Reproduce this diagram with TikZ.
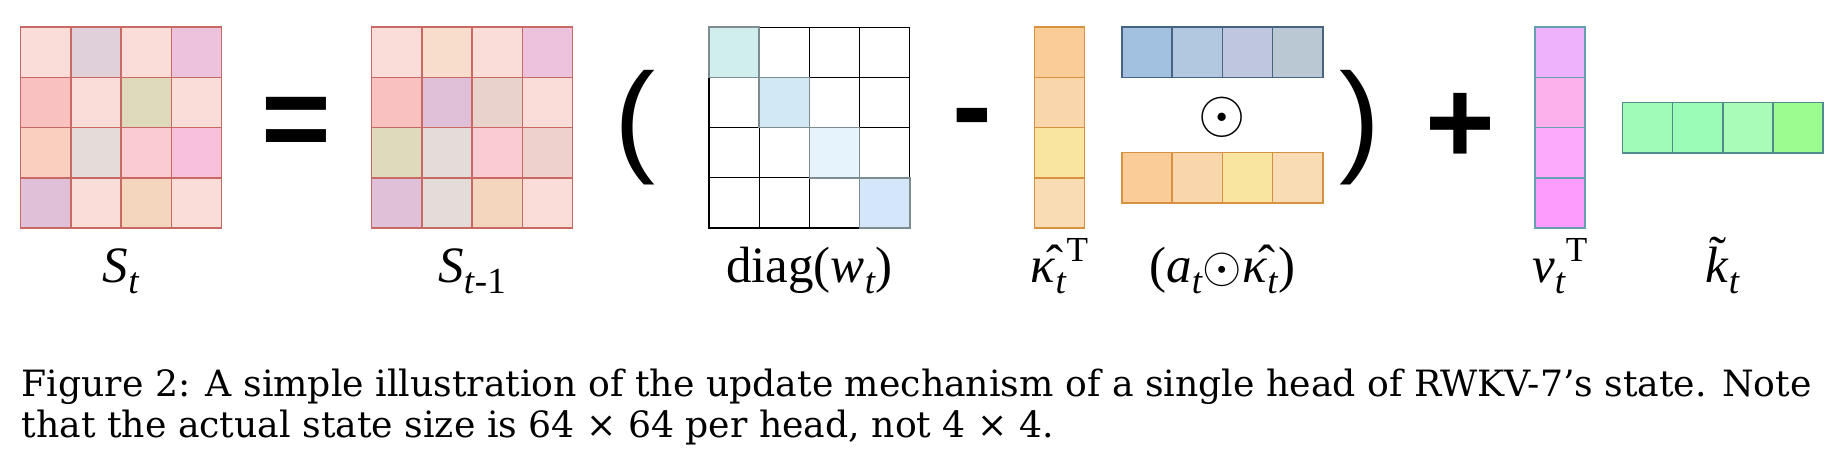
\documentclass[tikz,border=0pt]{standalone}
\usepackage{fontspec}
\newfontfamily\lblfam{Liberation Serif}
\newfontfamily\opfam{Liberation Sans}
\newfontfamily\capfam{DejaVu Serif}

% state cells
\definecolor{pkA}{HTML}{FADCD8}
\definecolor{mvA}{HTML}{E0D0DA}
\definecolor{mvB}{HTML}{EDC2DC}
\definecolor{rdA}{HTML}{F9C2C0}
\definecolor{olA}{HTML}{E0DABC}
\definecolor{pcA}{HTML}{F9D0C0}
\definecolor{gyA}{HTML}{E4DCD8}
\definecolor{pkB}{HTML}{F9CCD4}
\definecolor{pkC}{HTML}{F8C0DA}
\definecolor{mvC}{HTML}{E0C0D8}
\definecolor{tnA}{HTML}{F4D6BE}
\definecolor{pcB}{HTML}{F8DCCC}
\definecolor{gyB}{HTML}{EAD2CC}
\definecolor{pkD}{HTML}{EED0CC}
\definecolor{sline}{RGB}{200,105,100}
% decay
\definecolor{dgA}{HTML}{D0EEEE}
\definecolor{dgB}{HTML}{D2E8F4}
\definecolor{dgC}{HTML}{E6F2FC}
\definecolor{dgD}{HTML}{D4E6FA}
\definecolor{dgline}{RGB}{125,140,145}
% kappa / a
\definecolor{kpA}{HTML}{F9CC98}
\definecolor{kpB}{HTML}{F9D6AC}
\definecolor{kpC}{HTML}{F9E4A0}
\definecolor{kpD}{HTML}{F9DCB4}
\definecolor{kline}{RGB}{215,145,65}
\definecolor{blA}{HTML}{A2C0E0}
\definecolor{blB}{HTML}{B2C8E0}
\definecolor{blC}{HTML}{BEC6E0}
\definecolor{blD}{HTML}{BAC8D4}
\definecolor{bline}{RGB}{70,100,130}
% v / k
\definecolor{vA}{HTML}{EEB2FC}
\definecolor{vB}{HTML}{FCB0EC}
\definecolor{vC}{HTML}{FCAAFC}
\definecolor{vD}{HTML}{FC9CFC}
\definecolor{vline}{RGB}{100,160,175}
\definecolor{gA}{HTML}{9EFCB8}
\definecolor{gB}{HTML}{9AFCB6}
\definecolor{gC}{HTML}{A8FCB8}
\definecolor{gD}{HTML}{9CFC90}
\definecolor{gline}{RGB}{80,140,140}

\newcommand{\lsub}[1]{\raisebox{-3pt}{\fontsize{10.5}{10.5}\selectfont #1}}
\newcommand{\lsup}[1]{\raisebox{6pt}{\fontsize{10}{10}\selectfont #1}}
\newcommand{\khat}{\textit{κ}\llap{\raisebox{0.6pt}{ˆ}\kern-2.2pt}}
\newcommand{\ktil}{\textit{k}\llap{\raisebox{3.2pt}{˜}\kern0.6pt}}

\begin{document}
\begin{tikzpicture}[
x=0.01cm, y=-0.01cm,
cell/.style={line width=0.45pt},
lbl/.style={anchor=base, inner sep=0pt, font=\lblfam\fontsize{14.5}{14.5}\selectfont},
op/.style={inner sep=0pt, font=\opfam\bfseries\fontsize{34}{34}\selectfont},
paren/.style={inner sep=0pt, font=\opfam\fontsize{35}{35}\selectfont},
capline/.style={anchor=base west, inner sep=0pt, font=\capfam\fontsize{10.3}{12}\selectfont}
]
\useasboundingbox (0,0) rectangle (1848,459);

% S_t
\foreach \f [count=\n from 0] in {pkA,mvA,pkA,mvB, rdA,pkA,olA,pkA, pcA,gyA,pkB,pkC, mvC,pkA,tnA,pkA}{
\pgfmathtruncatemacro\cx{mod(\n,4)}
\pgfmathtruncatemacro\ry{div(\n,4)}
\draw[cell, draw=sline, fill=\f] (20.7+\cx*50.2, 27.3+\ry*50.2) rectangle ++(50.2,50.2);
}

% S_{t-1}
\foreach \f [count=\n from 0] in {pkA,pcB,pkA,mvB, rdA,mvC,gyB,pkA, olA,gyA,pkB,pkD, mvC,gyA,tnA,pkA}{
\pgfmathtruncatemacro\cx{mod(\n,4)}
\pgfmathtruncatemacro\ry{div(\n,4)}
\draw[cell, draw=sline, fill=\f] (371.7+\cx*50.2, 27.3+\ry*50.2) rectangle ++(50.2,50.2);
}

% diag(w_t)
\foreach \ry in {0,...,3}
\foreach \cx in {0,...,3}
\draw[line width=0.35pt, draw=black, fill=white] (709+\cx*50.2, 27.3+\ry*50.2) rectangle ++(50.2,50.2);
\foreach \f [count=\n from 0] in {dgA,dgB,dgC,dgD}
\draw[cell, draw=dgline, fill=\f] (709+\n*50.2, 27.3+\n*50.2) rectangle ++(50.2,50.2);

% kappa column, a row, kappa row
\foreach \f [count=\n from 0] in {kpA,kpB,kpC,kpD}
\draw[cell, draw=kline, fill=\f] (1034.3, 27.3+\n*50.2) rectangle ++(50.2,50.2);
\foreach \f [count=\n from 0] in {blA,blB,blC,blD}
\draw[cell, draw=bline, fill=\f] (1122+\n*50.2, 27.3) rectangle ++(50.2,50.2);
\foreach \f [count=\n from 0] in {kpA,kpB,kpC,kpD}
\draw[cell, draw=kline, fill=\f] (1122+\n*50.2, 152.7) rectangle ++(50.2,50.2);

% v column, k row
\foreach \f [count=\n from 0] in {vA,vB,vC,vD}
\draw[cell, draw=vline, fill=\f] (1534.7, 27.3+\n*50.2) rectangle ++(50.2,50.2);
\foreach \f [count=\n from 0] in {gA,gB,gC,gD}
\draw[cell, draw=gline, fill=\f] (1622.3+\n*50.2, 102.7) rectangle ++(50.2,50.2);

% operators
\node[op] (eq) at (296,128) {=};
\node[paren] (lp) at (635,128) {(};
\node[op] (minus) at (972,127) {-};
\node[inner sep=0pt, font=\fontsize{17.5}{17.5}\selectfont] (dot) at (1222,117) {$\odot$};
\node[paren] (rp) at (1360,128) {)};
\node[op] (plus) at (1460,128) {+};

% labels
\node[lbl] (lSt) at (121.1,283) {\textit{S}\lsub{\textit{t}}};
\node[lbl] (lSp) at (472.1,283) {\textit{S}\lsub{\textit{t}-1}};
\node[lbl] (lw) at (809.4,283) {diag(\textit{w}\lsub{\textit{t}})};
\node[lbl] (lkap) at (1059.4,283) {\khat\lsub{\textit{t}}\lsup{T}};
\node[lbl] (la) at (1222.4,283) {(\textit{a}\lsub{\textit{t}}$\odot$\khat\lsub{\textit{t}})};
\node[lbl] (lv) at (1559.8,283) {\textit{v}\lsub{\textit{t}}\lsup{T}};
\node[lbl] (lk) at (1722.7,283) {\ktil\lsub{\textit{t}}};

% caption
\node[capline] (cap1) at (21,397) {Figure 2: A simple illustration of the update mechanism of a single head of RWKV-7’s state. Note};
\node[capline] (cap2) at (21,438) {that the actual state size is 64 × 64 per head, not 4 × 4.};
\end{tikzpicture}
\end{document}
